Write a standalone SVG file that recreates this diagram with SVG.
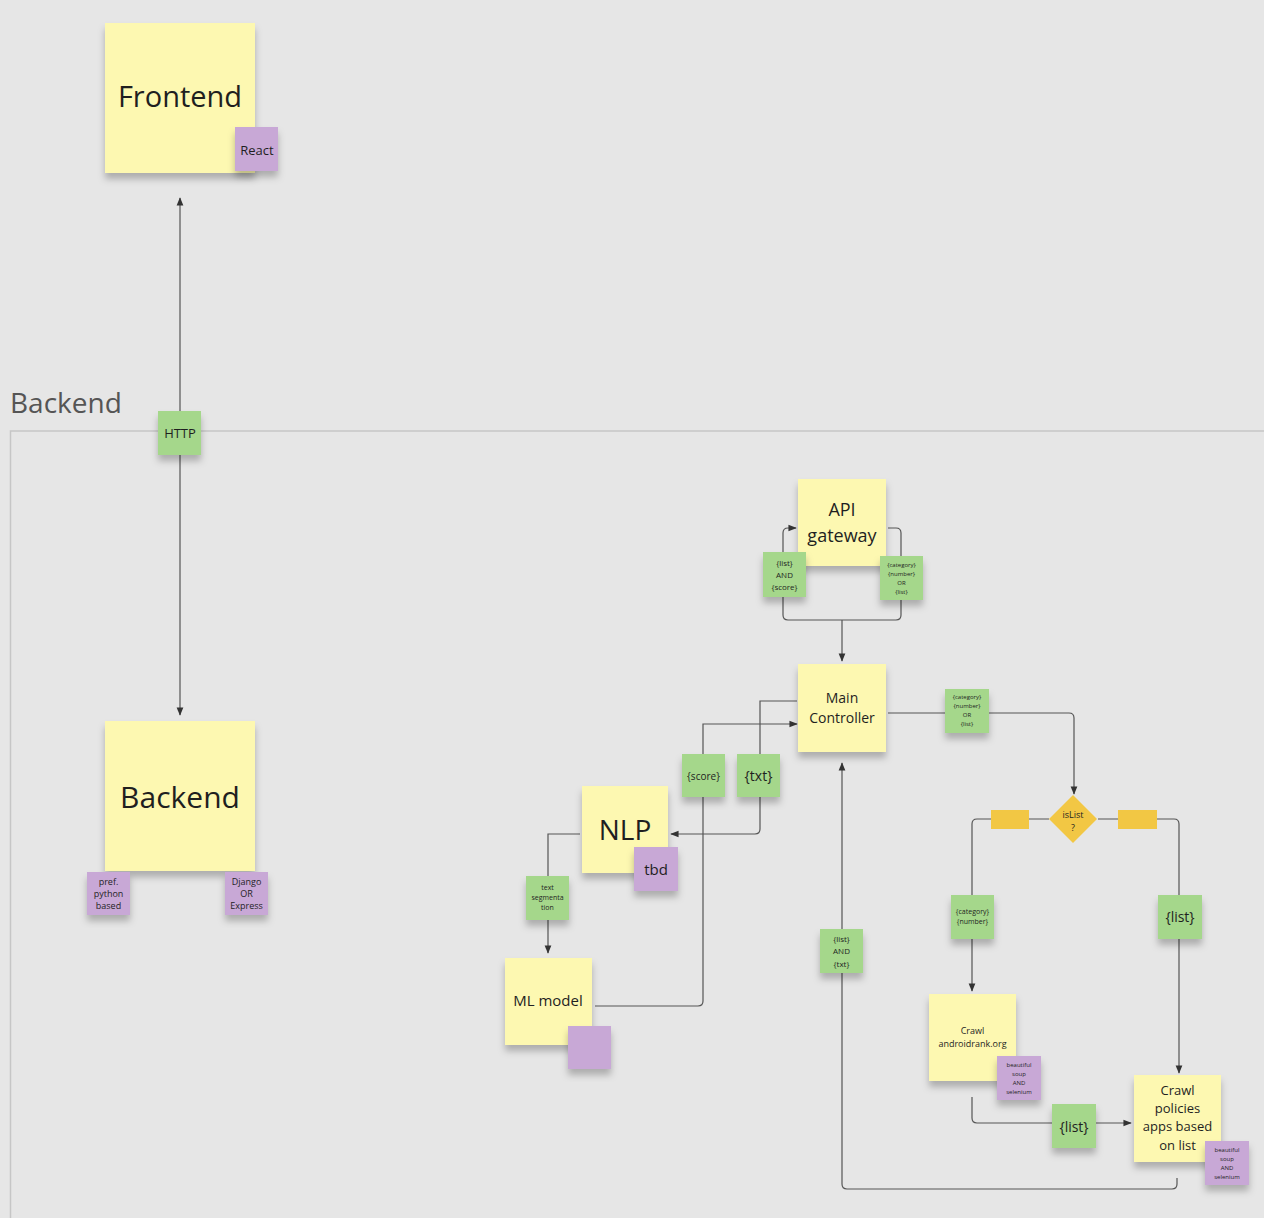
<svg xmlns="http://www.w3.org/2000/svg" width="1264" height="1218" viewBox="0 0 1264 1218">
<style>
.y{fill:#fdf8b1}
.g{fill:#a5d78b}
.p{fill:#c8a8d6}
.t{font-family:"Open Sans","Noto Sans","Liberation Sans",sans-serif;fill:#1f1f1f;text-anchor:middle}
.c{fill:none;stroke:#555;stroke-width:1.2}
</style>
<defs>
<filter id="sh" x="-20%" y="-20%" width="140%" height="150%">
<feDropShadow dx="0" dy="6" stdDeviation="3.5" flood-color="#000" flood-opacity="0.25"/>
</filter>
<marker id="a" viewBox="0 0 10 10" refX="9" refY="5" markerWidth="7" markerHeight="7" orient="auto-start-reverse">
<path d="M0,1 L10,5 L0,9 z" fill="#333"/>
</marker>
</defs>
<rect x="0" y="0" width="1264" height="1218" fill="#e6e6e6"/>
<g id="frame">
<text x="10" y="413" font-family="Open Sans, Noto Sans, sans-serif" font-size="28" fill="#555">Backend</text>
<path d="M1264,431 H10.5 V1218" fill="none" stroke="#c6c6c6" stroke-width="1.5"/>
</g>
<g id="connectors">
<path class="c" d="M180,198 V715" marker-start="url(#a)" marker-end="url(#a)"/>
<path class="c" d="M783,615 V533 Q783,528 788,528 H796" marker-end="url(#a)"/>
<path class="c" d="M888,528 H896 Q901,528 901,533 V615 Q901,620 896,620 H788 Q783,620 783,615"/>
<path class="c" d="M842,620 V661" marker-end="url(#a)"/>
<path class="c" d="M888,713 H1069 Q1074,713 1074,718 V794" marker-end="url(#a)"/>
<path class="c" d="M797,701 H760 V829 Q760,834 755,834 H671" marker-end="url(#a)"/>
<path class="c" d="M595,1006 H698 Q703,1006 703,1001 V724 H797" marker-end="url(#a)"/>
<path class="c" d="M580,834 H548 V953" marker-end="url(#a)"/>
<path class="c" d="M1049,819 H977 Q972,819 972,824 V991" marker-end="url(#a)"/>
<path class="c" d="M1098,819 H1174 Q1179,819 1179,824 V1073" marker-end="url(#a)"/>
<path class="c" d="M972,1097 V1118 Q972,1123 977,1123 H1131" marker-end="url(#a)"/>
<path class="c" d="M1177,1178 V1184 Q1177,1189 1172,1189 H847 Q842,1189 842,1184 V763" marker-end="url(#a)"/>
</g>
<g id="frontend"><rect class="y" x="105" y="23" width="150" height="150" filter="url(#sh)"/><text class="t" x="180" y="107" font-size="29">Frontend</text></g>
<g id="react"><rect class="p" x="235" y="127" width="43" height="44" filter="url(#sh)"/><text class="t" x="257" y="155" font-size="13">React</text></g>
<g id="http"><rect class="g" x="158" y="411" width="43" height="44" filter="url(#sh)"/><text class="t" x="180" y="438" font-size="13">HTTP</text></g>
<g id="backend"><rect class="y" x="105" y="721" width="150" height="150" filter="url(#sh)"/><text class="t" x="180" y="808" font-size="30">Backend</text></g>
<g id="pref"><rect class="p" x="87" y="872" width="43" height="43" filter="url(#sh)"/><text class="t" font-size="9"><tspan x="108.5" y="885">pref.</tspan><tspan x="108.5" y="897">python</tspan><tspan x="108.5" y="909">based</tspan></text></g>
<g id="django"><rect class="p" x="225" y="872" width="43" height="43" filter="url(#sh)"/><text class="t" font-size="9"><tspan x="246.5" y="885">Django</tspan><tspan x="246.5" y="897">OR</tspan><tspan x="246.5" y="909">Express</tspan></text></g>
<g id="api"><rect class="y" x="798" y="479" width="88" height="87" filter="url(#sh)"/><text class="t" font-size="18"><tspan x="842" y="516">API</tspan><tspan x="842" y="542">gateway</tspan></text></g>
<g id="listandscore"><rect class="g" x="763" y="552" width="43" height="45" filter="url(#sh)"/><text class="t" font-size="8"><tspan x="784.5" y="566">{list}</tspan><tspan x="784.5" y="578">AND</tspan><tspan x="784.5" y="590">{score}</tspan></text></g>
<g id="catnum1"><rect class="g" x="880" y="556" width="43" height="44" filter="url(#sh)"/><text class="t" font-size="6"><tspan x="901.5" y="567">{category}</tspan><tspan x="901.5" y="576">{number}</tspan><tspan x="901.5" y="585">OR</tspan><tspan x="901.5" y="594">{list}</tspan></text></g>
<g id="main"><rect class="y" x="798" y="664" width="88" height="88" filter="url(#sh)"/><text class="t" font-size="14"><tspan x="842" y="703">Main</tspan><tspan x="842" y="723">Controller</tspan></text></g>
<g id="catnum2"><rect class="g" x="945" y="689" width="44" height="44" filter="url(#sh)"/><text class="t" font-size="6"><tspan x="967" y="699">{category}</tspan><tspan x="967" y="708">{number}</tspan><tspan x="967" y="717">OR</tspan><tspan x="967" y="726">{list}</tspan></text></g>
<g id="score"><rect class="g" x="682" y="754" width="43" height="43" filter="url(#sh)"/><text class="t" x="703.5" y="780" font-size="10">{score}</text></g>
<g id="txt"><rect class="g" x="737" y="754" width="43" height="43" filter="url(#sh)"/><text class="t" x="758.5" y="781" font-size="14">{txt}</text></g>
<g id="nlp"><rect class="y" x="582" y="786" width="86" height="87" filter="url(#sh)"/><text class="t" x="625" y="840" font-size="28">NLP</text></g>
<g id="tbd"><rect class="p" x="634" y="847" width="44" height="44" filter="url(#sh)"/><text class="t" x="656" y="875" font-size="15">tbd</text></g>
<g id="textseg"><rect class="g" x="526" y="876" width="43" height="44" filter="url(#sh)"/><text class="t" font-size="7"><tspan x="547.5" y="890">text</tspan><tspan x="547.5" y="900">segmenta</tspan><tspan x="547.5" y="910">tion</tspan></text></g>
<g id="ml"><rect class="y" x="505" y="958" width="87" height="87" filter="url(#sh)"/><text class="t" x="548" y="1006" font-size="15">ML model</text></g>
<g id="mlpurple"><rect class="p" x="568" y="1026" width="43" height="43" filter="url(#sh)"/></g>
<g id="islist"><path d="M1073,795 L1097,819 L1073,843 L1049,819 z" fill="#f2c744"/><text class="t" font-size="9"><tspan x="1073" y="818">isList</tspan><tspan x="1073" y="831">?</tspan></text></g>
<g id="ylabel1"><rect x="991" y="810" width="38" height="19" fill="#f2c744"/></g>
<g id="ylabel2"><rect x="1118" y="810" width="39" height="19" fill="#f2c744"/></g>
<g id="catnum3"><rect class="g" x="951" y="895" width="43" height="44" filter="url(#sh)"/><text class="t" font-size="7"><tspan x="972.5" y="914">{category}</tspan><tspan x="972.5" y="924">{number}</tspan></text></g>
<g id="list1"><rect class="g" x="1158" y="895" width="44" height="44" filter="url(#sh)"/><text class="t" x="1180" y="922" font-size="14">{list}</text></g>
<g id="listandtxt"><rect class="g" x="820" y="929" width="43" height="44" filter="url(#sh)"/><text class="t" font-size="8"><tspan x="841.5" y="942">{list}</tspan><tspan x="841.5" y="954">AND</tspan><tspan x="841.5" y="967">{txt}</tspan></text></g>
<g id="crawl1"><rect class="y" x="929" y="994" width="87" height="87" filter="url(#sh)"/><text class="t" font-size="9"><tspan x="972.5" y="1034">Crawl</tspan><tspan x="972.5" y="1047">androidrank.org</tspan></text></g>
<g id="bs1"><rect class="p" x="997" y="1056" width="44" height="44" filter="url(#sh)"/><text class="t" font-size="6"><tspan x="1019" y="1067">beautiful</tspan><tspan x="1019" y="1076">soup</tspan><tspan x="1019" y="1085">AND</tspan><tspan x="1019" y="1094">selenium</tspan></text></g>
<g id="list2"><rect class="g" x="1052" y="1104" width="44" height="44" filter="url(#sh)"/><text class="t" x="1074" y="1132" font-size="14">{list}</text></g>
<g id="crawl2"><rect class="y" x="1134" y="1075" width="87" height="87" filter="url(#sh)"/><text class="t" font-size="13"><tspan x="1177.5" y="1095">Crawl</tspan><tspan x="1177.5" y="1113">policies</tspan><tspan x="1177.5" y="1131">apps based</tspan><tspan x="1177.5" y="1150">on list</tspan></text></g>
<g id="bs2"><rect class="p" x="1205" y="1141" width="44" height="44" filter="url(#sh)"/><text class="t" font-size="6"><tspan x="1227" y="1152">beautiful</tspan><tspan x="1227" y="1161">soup</tspan><tspan x="1227" y="1170">AND</tspan><tspan x="1227" y="1179">selenium</tspan></text></g>
</svg>
